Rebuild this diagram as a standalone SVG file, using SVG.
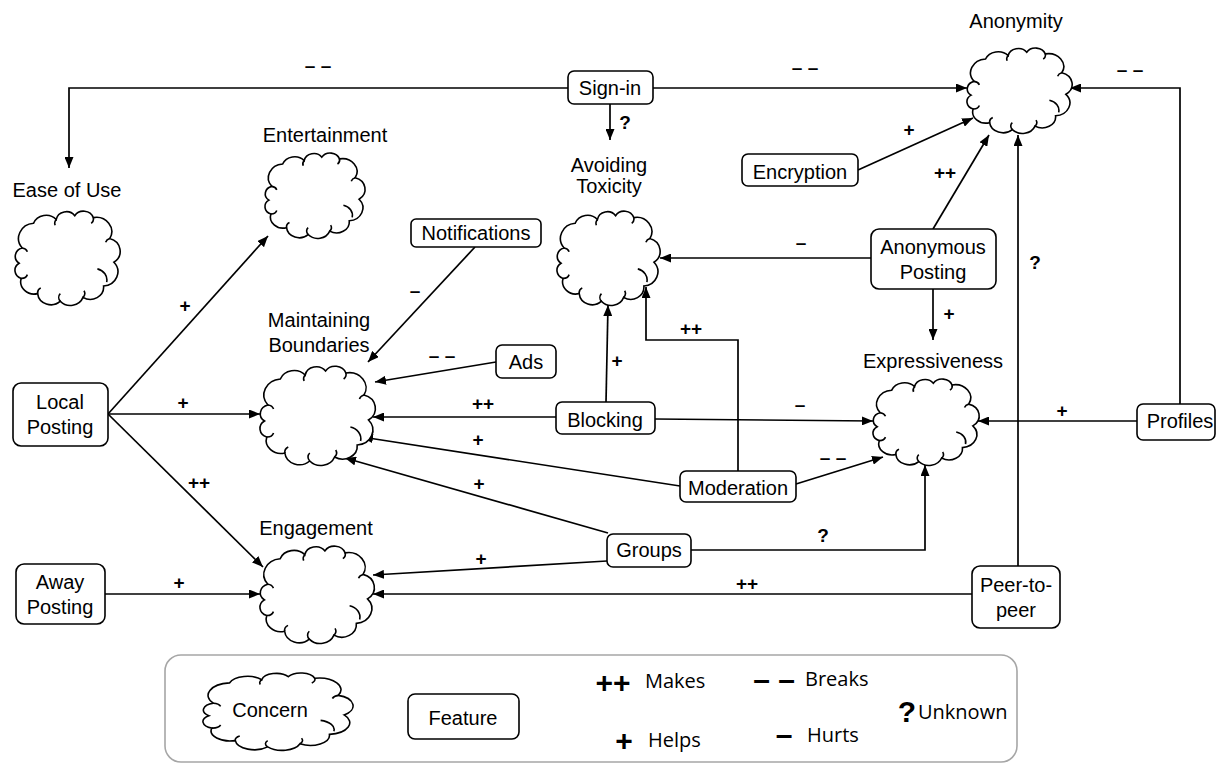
<svg xmlns="http://www.w3.org/2000/svg" xmlns:xlink="http://www.w3.org/1999/xlink" width="1217" height="764" viewBox="0 0 1217 764">
<style>
.bg{fill:#fff}
.box{fill:#fff;stroke:#000;stroke-width:1.6}
.cl{fill:#fff;stroke:#000;stroke-width:1.6;vector-effect:non-scaling-stroke}
.ci{fill:none;stroke:#000;stroke-width:1.6;vector-effect:non-scaling-stroke}
.t{font-family:"Liberation Sans",Arial,sans-serif;font-size:20px;fill:#000;text-anchor:middle}
.c{fill:none;stroke:#000;stroke-width:1.7}
.l{font-family:"Liberation Sans",Arial,sans-serif;font-size:19px;font-weight:bold;fill:#000;text-anchor:middle}
.lg{font-family:"Open Sans",sans-serif;font-size:20px;fill:#000}
.lb{font-family:"Liberation Sans",Arial,sans-serif;font-size:30px;font-weight:bold;fill:#000;text-anchor:middle}
</style>
<defs>
<marker id="a" markerWidth="11" markerHeight="9" refX="11" refY="4.5" orient="auto" markerUnits="userSpaceOnUse"><path d="M0,0 L11,4.5 L0,9 Z" fill="#000"/></marker>
<g id="cloud">
<path class="cl" d="M7,40 A16,16 0 0 1 18,14 A13,13 0 0 1 40,10 A10,10 0 0 1 58,6 A10,10 0 0 1 76,8 A15,15 0 0 1 92,30 A14,14 0 0 1 96,55 A15,15 0 0 1 86,80 A13,13 0 0 1 66,92 A13,13 0 0 1 44,96 A13,13 0 0 1 22,88 A13,13 0 0 1 6,72 A9,9 0 0 1 4,56 A9,9 0 0 1 7,40 Z"/>
<path class="ci" d="M80,62 A12,12 0 0 1 89,76 M66,92 A6,6 0 0 0 67,85 M44,96 A6,6 0 0 1 44,88 M22,88 A6,6 0 0 1 25,82 M6,72 A6,6 0 0 0 12,68 M7,40 A6,6 0 0 1 12,44 M40,10 A6,6 0 0 0 39,16 M76,8 A6,6 0 0 1 74,14 M92,30 A6,6 0 0 0 88,34"/>
</g>
</defs>
<rect class="bg" x="0" y="0" width="1217" height="764"/>

<g id="connectors">
<path class="c" marker-end="url(#a)" d="M568,88 H69 V168"/>
<path class="c" marker-end="url(#a)" d="M653,88 H967"/>
<path class="c" marker-end="url(#a)" d="M610,104 V140"/>
<path class="c" marker-end="url(#a)" d="M858,170 L973,118"/>
<path class="c" marker-end="url(#a)" d="M933,229 L989,135"/>
<path class="c" marker-end="url(#a)" d="M871,258 H660"/>
<path class="c" marker-end="url(#a)" d="M933,289 V340"/>
<path class="c" marker-end="url(#a)" d="M1018,566 V135"/>
<path class="c" marker-end="url(#a)" d="M1180,404 V88 H1070"/>
<path class="c" marker-end="url(#a)" d="M1137,421 H978"/>
<path class="c" marker-end="url(#a)" d="M475,247 L368,362"/>
<path class="c" marker-end="url(#a)" d="M496,362 L375,382"/>
<path class="c" marker-end="url(#a)" d="M556,417 H373"/>
<path class="c" marker-end="url(#a)" d="M606,402 L608,305"/>
<path class="c" marker-end="url(#a)" d="M655,419 L873,421"/>
<path class="c" marker-end="url(#a)" d="M680,486 L362,437"/>
<path class="c" marker-end="url(#a)" d="M738,471 V340 H646 V287"/>
<path class="c" marker-end="url(#a)" d="M796,484 L883,457"/>
<path class="c" marker-end="url(#a)" d="M608,533 L345,458"/>
<path class="c" marker-end="url(#a)" d="M607,561 L373,575"/>
<path class="c" marker-end="url(#a)" d="M691,550 H925 V465"/>
<path class="c" marker-end="url(#a)" d="M972,594 H373"/>
<path class="c" marker-end="url(#a)" d="M105,594 H260"/>
<path class="c" marker-end="url(#a)" d="M108,414 L268,236"/>
<path class="c" marker-end="url(#a)" d="M108,414 H260"/>
<path class="c" marker-end="url(#a)" d="M108,414 L263,567"/>
<text class="l" x="318" y="72">– –</text>
<text class="l" x="805" y="74">– –</text>
<text class="l" x="625" y="129">?</text>
<text class="l" x="909" y="136">+</text>
<text class="l" x="945" y="179">++</text>
<text class="l" x="801" y="249">–</text>
<text class="l" x="949" y="320">+</text>
<text class="l" x="1035" y="269">?</text>
<text class="l" x="1130" y="76">– –</text>
<text class="l" x="1062" y="417">+</text>
<text class="l" x="415" y="297">–</text>
<text class="l" x="442" y="362">– –</text>
<text class="l" x="483" y="410">++</text>
<text class="l" x="617" y="367">+</text>
<text class="l" x="800" y="411">–</text>
<text class="l" x="478" y="446">+</text>
<text class="l" x="691" y="335">++</text>
<text class="l" x="833" y="464">– –</text>
<text class="l" x="479" y="490">+</text>
<text class="l" x="481" y="565">+</text>
<text class="l" x="823" y="542">?</text>
<text class="l" x="747" y="590">++</text>
<text class="l" x="179" y="589">+</text>
<text class="l" x="185" y="312">+</text>
<text class="l" x="183" y="409">+</text>
<text class="l" x="199" y="489">++</text>
</g>

<g id="anonymity">
<use xlink:href="#cloud" transform="translate(967,47) scale(1.03,0.86)"/>
<text class="t" x="1016" y="28">Anonymity</text>
</g>
<g id="entertainment">
<use xlink:href="#cloud" transform="translate(265,152) scale(0.98,0.86)"/>
<text class="t" x="325" y="142">Entertainment</text>
</g>
<g id="ease-of-use">
<use xlink:href="#cloud" transform="translate(15,210) scale(1.03,0.95)"/>
<text class="t" x="67" y="197">Ease of Use</text>
</g>
<g id="avoiding-toxicity">
<use xlink:href="#cloud" transform="translate(557,210) scale(1.01,0.95)"/>
<text class="t" x="609" y="172">Avoiding</text>
<text class="t" x="609" y="193">Toxicity</text>
</g>
<g id="maintaining-boundaries">
<use xlink:href="#cloud" transform="translate(260,365) scale(1.13,1.0)"/>
<text class="t" x="319" y="327">Maintaining</text>
<text class="t" x="319" y="352">Boundaries</text>
</g>
<g id="engagement">
<use xlink:href="#cloud" transform="translate(260,545) scale(1.12,0.98)"/>
<text class="t" x="316" y="535">Engagement</text>
</g>
<g id="expressiveness">
<use xlink:href="#cloud" transform="translate(873,378) scale(1.04,0.87)"/>
<text class="t" x="933" y="368">Expressiveness</text>
</g>

<g id="sign-in"><rect class="box" x="568" y="71" width="85" height="33" rx="6"/><text class="t" x="610" y="95">Sign-in</text></g>
<g id="notifications"><rect class="box" x="411" y="219" width="130" height="28" rx="5"/><text class="t" x="476" y="240">Notifications</text></g>
<g id="encryption"><rect class="box" x="742" y="154" width="116" height="32" rx="6"/><text class="t" x="800" y="179">Encryption</text></g>
<g id="anonymous-posting"><rect class="box" x="871" y="229" width="125" height="60" rx="8"/><text class="t" x="933" y="254">Anonymous</text><text class="t" x="933" y="279">Posting</text></g>
<g id="ads"><rect class="box" x="496" y="345" width="60" height="33" rx="6"/><text class="t" x="526" y="369">Ads</text></g>
<g id="local-posting"><rect class="box" x="13" y="383" width="95" height="63" rx="8"/><text class="t" x="60" y="409">Local</text><text class="t" x="60" y="434">Posting</text></g>
<g id="blocking"><rect class="box" x="556" y="402" width="99" height="32" rx="6"/><text class="t" x="605" y="427">Blocking</text></g>
<g id="profiles"><rect class="box" x="1137" y="404" width="78" height="36" rx="6"/><text class="t" x="1180" y="428">Profiles</text></g>
<g id="moderation"><rect class="box" x="680" y="471" width="116" height="31" rx="6"/><text class="t" x="738" y="495">Moderation</text></g>
<g id="groups"><rect class="box" x="607" y="534" width="84" height="33" rx="6"/><text class="t" x="649" y="557">Groups</text></g>
<g id="away-posting"><rect class="box" x="16" y="564" width="89" height="60" rx="8"/><text class="t" x="60" y="589">Away</text><text class="t" x="60" y="614">Posting</text></g>
<g id="peer-to-peer"><rect class="box" x="972" y="566" width="88" height="62" rx="8"/><text class="t" x="1016" y="592">Peer-to-</text><text class="t" x="1016" y="617">peer</text></g>

<g id="legend">
<rect x="165" y="655" width="852" height="107" rx="16" fill="#fff" stroke="#a6a6a6" stroke-width="1.6"/>
<use xlink:href="#cloud" transform="translate(203,672) scale(1.47,0.78)"/>
<text class="t" x="270" y="717">Concern</text>
<rect class="box" x="408" y="694" width="111" height="45" rx="7"/>
<text class="t" x="463" y="725">Feature</text>
<text class="lb" x="613" y="693">++</text>
<text class="lg" x="645" y="688">Makes</text>
<text class="lb" x="624" y="751">+</text>
<text class="lg" x="648" y="747">Helps</text>
<text class="lb" x="774" y="690">– –</text>
<text class="lg" x="805" y="686">Breaks</text>
<text class="lb" x="784" y="745">–</text>
<text class="lg" x="807" y="742">Hurts</text>
<text class="lb" x="907" y="722">?</text>
<text class="lg" x="918" y="719">Unknown</text>
</g>
</svg>
